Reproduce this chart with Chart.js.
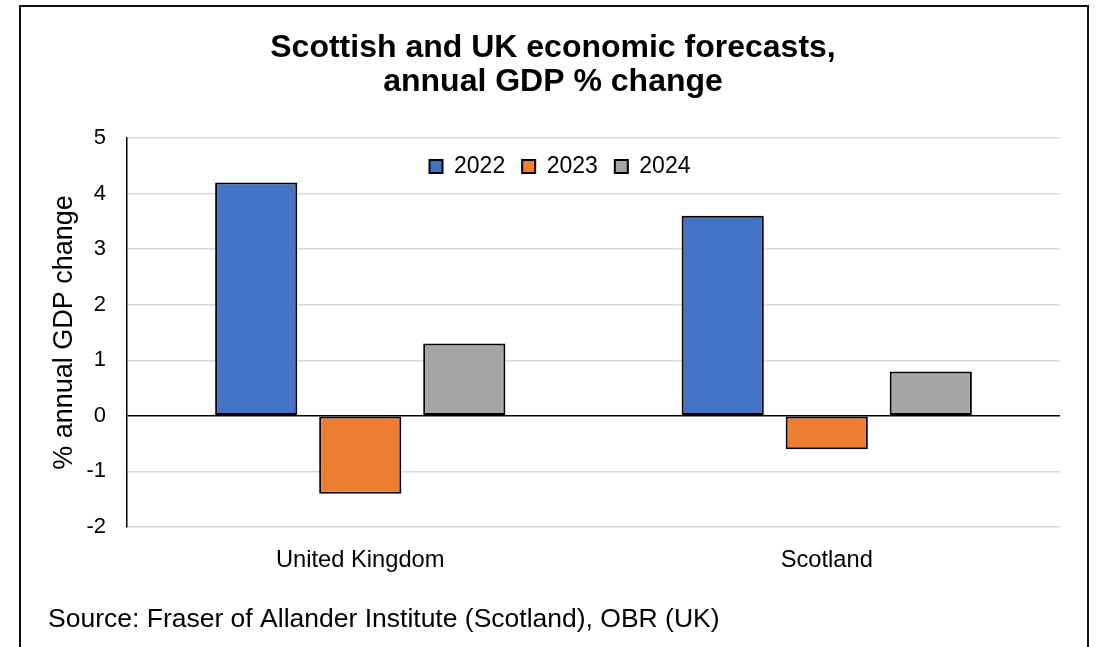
<!DOCTYPE html>
<html>
<head>
<meta charset="utf-8">
<title>Scottish and UK economic forecasts</title>
<script src="https://cdn.jsdelivr.net/npm/chart.js@4/dist/chart.umd.min.js"></script>
<style>
  html, body { margin: 0; padding: 0; background: #fff; }
  canvas { display: block; }
</style>
</head>
<body>
<canvas id="gdpChart" width="1097" height="647"></canvas>
<script>
// Forecast data: annual GDP % change
const categories = ['United Kingdom', 'Scotland'];
const years = ['2022', '2023', '2024'];
const gdp2022 = [4.2, 3.6];
const gdp2023 = [-1.4, -0.6];
const gdp2024 = [1.3, 0.8];
const yTicks = [-2, -1, 0, 1, 2, 3, 4, 5];

const titleLines = ['Scottish and UK economic forecasts,', 'annual GDP % change'];
const axisTitle = '% annual GDP change';
const sourceNote = 'Source: Fraser of Allander Institute (Scotland), OBR (UK)';

const FONT = "'Liberation Sans', Arial, Helvetica, sans-serif";
const seriesColors = ['#4472C4', '#ED7D31', '#A5A5A5'];
const seriesValues = [gdp2022, gdp2023, gdp2024];

const LEGEND_PAD = 17;

Chart.defaults.font.family = FONT;
Chart.defaults.color = '#000';

// Frame, heading and source line around the plot
const decorations = {
  id: 'decorations',
  beforeDraw(chart) {
    const ctx = chart.ctx;
    ctx.save();
    ctx.fillStyle = '#fff';
    ctx.fillRect(0, 0, chart.width, chart.height);
    ctx.restore();
  },
  afterLayout(chart) {
    // the key is drawn inside the top of the plot, a little left of centre
    const lg = chart.legend;
    if (lg) {
      const dy = chart.chartArea.top - lg.top;
      lg.top += dy;
      lg.bottom += dy;
      lg.left += 30;
      lg.right += 30;
    }
  },
  afterDraw(chart) {
    const ctx = chart.ctx;
    ctx.save();
    ctx.strokeStyle = '#111';
    ctx.lineWidth = 2;
    ctx.strokeRect(20, 6, 1068, 700);

    ctx.fillStyle = '#000';
    ctx.textAlign = 'center';
    ctx.textBaseline = 'alphabetic';
    ctx.font = 'bold 32px ' + FONT;
    ctx.fillText(titleLines[0], 553, 57);
    ctx.fillText(titleLines[1], 553, 91);

    ctx.textAlign = 'left';
    ctx.font = '26.5px ' + FONT;
    ctx.fillText(sourceNote, 48, 627);
    ctx.restore();
  }
};

new Chart(document.getElementById('gdpChart'), {
  type: 'bar',
  data: {
    labels: categories,
    datasets: years.map((y, i) => ({
      label: y,
      data: seriesValues[i],
      backgroundColor: seriesColors[i],
      borderColor: '#000',
      borderWidth: 2,
      borderSkipped: false,
      categoryPercentage: 0.669,
      barPercentage: 0.79
    }))
  },
  options: {
    responsive: false,
    animation: false,
    devicePixelRatio: 1,
    layout: { padding: { top: 88, left: 0, right: 37, bottom: 0 } },
    plugins: {
      title: { display: false },
      tooltip: { enabled: false },
      legend: {
        display: true,
        position: 'top',
        align: 'center',
        labels: {
          boxWidth: 13,
          boxHeight: 13,
          padding: LEGEND_PAD,
          color: '#000',
          font: { size: 23, family: FONT }
        }
      }
    },
    scales: {
      x: {
        grid: { display: false, drawTicks: false },
        border: { display: false },
        ticks: { color: '#000', padding: 19, font: { size: 23.7, family: FONT } },
        afterFit(scale) { scale.height = 120; }
      },
      y: {
        min: -2,
        max: 5,
        afterBuildTicks(scale) { scale.ticks = yTicks.map(v => ({ value: v })); },
        afterFit(scale) { scale.width = 127; },
        grid: {
          drawTicks: false,
          color: ctx => (ctx.tick && ctx.tick.value === 0 ? '#000' : '#d9d9d9'),
          lineWidth: 1.5
        },
        border: { display: true, color: '#000', width: 1.5 },
        ticks: { color: '#000', padding: 21, font: { size: 22, family: FONT } },
        title: {
          display: true,
          text: axisTitle,
          color: '#000',
          font: { size: 27, family: FONT },
          padding: { top: 48, bottom: 0 }
        }
      }
    }
  },
  plugins: [decorations]
});
</script>
</body>
</html>
